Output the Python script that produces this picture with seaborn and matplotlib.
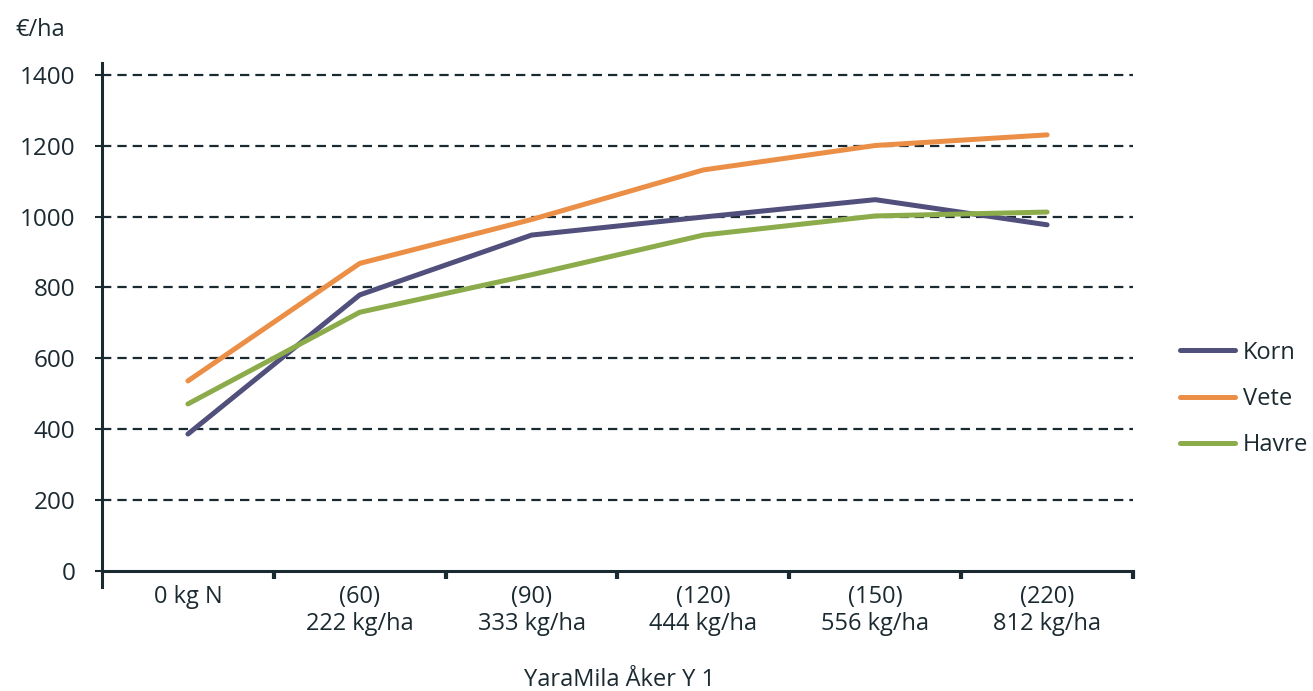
import matplotlib
matplotlib.use("Agg")
import matplotlib.pyplot as plt
import seaborn as sns
import pandas as pd

# Categories: nitrogen rate (kg N) and the corresponding YaraMila Åker Y 1 dose
categories = ["0 kg N", "(60)\n222 kg/ha", "(90)\n333 kg/ha", "(120)\n444 kg/ha",
              "(150)\n556 kg/ha", "(220)\n812 kg/ha"]
korn = [386, 779, 948, 999, 1048, 977]
vete = [536, 868, 992, 1132, 1201, 1231]
havre = [471, 730, 836, 948, 1002, 1013]
series_names = ["Korn", "Vete", "Havre"]
colors = ["#514f7b", "#eb8e46", "#8cab4b"]
y_ticks = [0, 200, 400, 600, 800, 1000, 1200, 1400]

df = pd.DataFrame({
    "pos": list(range(len(categories))) * 3,
    "value": korn + vete + havre,
    "crop": [n for n in series_names for _ in categories],
})

sns.set_theme(style="white")
plt.rcParams["font.family"] = ["Open Sans", "DejaVu Sans"]
ink = "#1b2a31"
fs = 17

fig = plt.figure(figsize=(13.13, 6.91), dpi=100)
ax = fig.add_axes([102 / 1313, 1 - 587 / 691, (1133 - 102) / 1313, (587 - 63) / 691])

sns.lineplot(data=df, x="pos", y="value", hue="crop", hue_order=series_names,
             palette=colors, linewidth=3.6, sort=False, ax=ax, legend=False)

ax.set_xlim(-0.5, len(categories) - 0.5)
ax.set_ylim(-46, 1434)

# dashed horizontal guides
for v in y_ticks[1:]:
    ax.axhline(v, color=ink, lw=1.6, linestyle=(0, (4.2, 2.7)), zorder=0.5)

for side in ["top", "right"]:
    ax.spines[side].set_visible(False)
ax.spines["left"].set_color(ink)
ax.spines["left"].set_linewidth(2.2)
ax.spines["bottom"].set_position(("data", 0))
ax.spines["bottom"].set_color(ink)
ax.spines["bottom"].set_linewidth(2.2)

ax.set_yticks(y_ticks)
ax.set_yticklabels([str(v) for v in y_ticks])
ax.tick_params(axis="y", direction="out", length=5, width=1.5, color=ink,
               labelsize=17.5, labelcolor=ink, pad=14, left=True)

ax.set_xticks(range(len(categories)))
ax.set_xticklabels(categories, linespacing=1.2)
ax.set_xticks([i + 0.5 for i in range(len(categories))], minor=True)
ax.tick_params(axis="x", which="major", length=0, labelsize=fs, labelcolor=ink, pad=10)
ax.tick_params(axis="x", which="minor", direction="out", length=6, width=3, color=ink,
               bottom=True)
ax.set_xlabel("")
ax.set_ylabel("")
ax.grid(False)

fig.text(15 / 1313, 1 - 30 / 691, "€/ha", fontsize=fs, color=ink, ha="left", va="center")
fig.text(620 / 1313, 1 - 680 / 691, "YaraMila Åker Y 1", fontsize=fs, color=ink,
         ha="center", va="center")

handles = [plt.Line2D([], [], color=c, lw=3.6) for c in colors]
fig.legend(handles, series_names, loc="center left",
           bbox_to_anchor=(1180 / 1313, 1 - 399 / 691), frameon=False,
           fontsize=fs, labelcolor=ink, handlelength=2.35, handletextpad=0.3,
           labelspacing=0.95, borderaxespad=0, borderpad=0)

fig.savefig("out.png", dpi=100, facecolor="white")
